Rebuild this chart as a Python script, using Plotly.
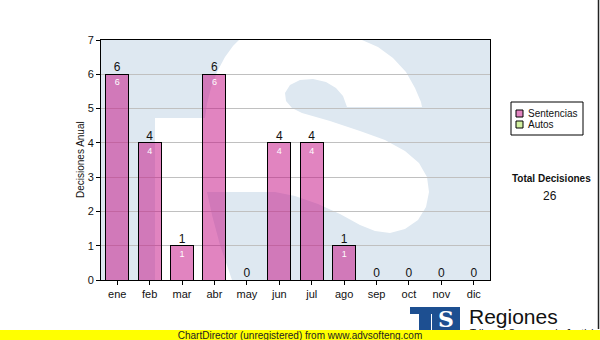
import plotly.graph_objects as go

# ---------------- data ----------------
months = ["ene", "feb", "mar", "abr", "may", "jun", "jul", "ago", "sep", "oct", "nov", "dic"]
sentencias = [6, 4, 1, 6, 0, 4, 4, 1, 0, 0, 0, 0]
autos = [0, 0, 0, 0, 0, 0, 0, 0, 0, 0, 0, 0]
series_names = ["Sentencias", "Autos"]
series_colors = ["rgba(195,10,130,0.5)", "#d2f0a0"]
y_ticks = [0, 1, 2, 3, 4, 5, 6, 7]
total = sum(sentencias) + sum(autos)

# ---------------- geometry helpers (pixel -> paper) ----------------
L, R, T, B = 101, 490, 40, 280
W, H = R - L, B - T


def px(x):
    return (x - L) / W


def py(y):
    return (B - y) / H


def poly(points):
    return "M " + " L ".join(f"{px(x):.5f},{py(y):.5f}" for x, y in points) + " Z"


fig = go.Figure()

fig.add_trace(go.Bar(
    x=months, y=sentencias, name=series_names[0],
    marker=dict(color=series_colors[0], line=dict(color="black", width=1)),
    width=0.71,
    text=[str(v) if v else "" for v in sentencias],
    textposition="inside", insidetextanchor="end",
    textfont=dict(family="Liberation Sans", size=9, color="white"),
    constraintext="none",
    showlegend=False,
))
fig.add_trace(go.Bar(
    x=months, y=autos, name=series_names[1],
    marker=dict(color=series_colors[1], line=dict(color="black", width=1)),
    width=0.71, showlegend=False,
))
fig.add_trace(go.Scatter(
    x=months, y=[a + b for a, b in zip(sentencias, autos)],
    text=[str(a + b) for a, b in zip(sentencias, autos)],
    mode="text", textposition="top center",
    textfont=dict(family="Liberation Sans", size=12, color="#111111"),
    showlegend=False, hoverinfo="skip", cliponaxis=False,
))

shapes = []
# watermark background (light blue)
shapes.append(dict(type="rect", xref="paper", yref="paper", x0=0, x1=1, y0=0, y1=1,
                   fillcolor="#dee8f1", line=dict(width=0), layer="below"))
# white "S" + gap of the logo watermark
s_pts = [(155, 280), (155, 118), (205, 118),
         (207, 104), (211, 88), (217, 72), (225, 57), (233, 46), (239, 40),
         (362, 40), (378, 47), (393, 58), (406, 72), (415, 88), (421, 102), (422, 107),
         (347, 107), (343, 96), (336, 88), (326, 82), (313, 79), (300, 80), (290, 85),
         (285, 93), (286, 101), (292, 108), (302, 113),
         (330, 121), (360, 131), (385, 140), (405, 151), (419, 163), (427, 177), (429, 192),
         (426, 207), (418, 220), (405, 229), (390, 233), (375, 231), (360, 225),
         (340, 214), (318, 204), (295, 196), (275, 192), (207, 192),
         (212, 215), (220, 245), (232, 280)]
shapes.append(dict(type="path", xref="paper", yref="paper", path=poly(s_pts),
                   fillcolor="white", line=dict(width=0), layer="below"))

# legend box (manual)
shapes.append(dict(type="rect", xref="paper", yref="paper",
                   x0=px(511), x1=px(583), y0=py(135), y1=py(102),
                   fillcolor="white", line=dict(color="black", width=1)))
for i, c in enumerate(series_colors):
    yy = 110 + i * 11
    shapes.append(dict(type="rect", xref="paper", yref="paper",
                       x0=px(516), x1=px(523), y0=py(yy + 7), y1=py(yy),
                       fillcolor=c, line=dict(color="black", width=1)))

# logo icon
logo_blue = "#1d4f91"
shapes.append(dict(type="path", xref="paper", yref="paper",
                   path=poly([(410, 307), (460, 307), (460, 330), (432, 330), (432, 314),
                              (410, 314)]),
                   fillcolor=logo_blue, line=dict(width=0)))
shapes.append(dict(type="rect", xref="paper", yref="paper",
                   x0=px(419), x1=px(431), y0=py(330), y1=py(307),
                   fillcolor=logo_blue, line=dict(width=0)))
# right border line
shapes.append(dict(type="line", xref="paper", yref="paper",
                   x0=px(598.5), x1=px(598.5), y0=py(0), y1=py(329),
                   line=dict(color="#222222", width=1.5)))

annotations = []


def ann(text, x, y, size, xanchor="center", color="#111111", family="Liberation Sans", **kw):
    annotations.append(dict(text=text, xref="paper", yref="paper", x=px(x), y=py(y),
                            xanchor=xanchor, yanchor="middle", showarrow=False,
                            font=dict(family=family, size=size, color=color), **kw))


ann("Decisiones Anual", 80, 160, 10, textangle=-90)
for i, n in enumerate(series_names):
    ann(n, 526, 113.5 + i * 11, 10, xanchor="left")
ann("<b>Total Decisiones</b>", 551, 178, 10)
ann(str(total), 550, 196, 12)
ann("Regiones", 467, 316, 21, xanchor="left")
ann("<b>S</b>", 446, 319, 22, color="white", family="DejaVu Serif")
ann("Tribunal Supremo de Justicia", 468, 333.5, 10, xanchor="left")
# yellow unregistered band (drawn last, covers most of the subtitle like in the original)
ann("ChartDirector (unregistered) from www.advsofteng.com", 300, 335, 10, color="#222222",
    bgcolor="#ffff00", width=600, height=10, borderpad=0, borderwidth=0)

fig.update_layout(
    width=600, height=340,
    margin=dict(l=L, r=600 - R, t=T, b=340 - B, pad=0),
    paper_bgcolor="white", plot_bgcolor="rgba(0,0,0,0)",
    barmode="stack",
    shapes=shapes, annotations=annotations,
    showlegend=False,
    xaxis=dict(type="category", categoryorder="array", categoryarray=months,
               range=[-0.5, len(months) - 0.5], autorange=False,
               showline=True, linecolor="black", linewidth=1, mirror=True,
               ticks="outside", ticklen=4, tickcolor="black",
               showgrid=False,
               tickfont=dict(family="Liberation Sans", size=11, color="#111111")),
    yaxis=dict(range=[0, 7], autorange=False, tickvals=y_ticks, showline=True,
               linecolor="black", linewidth=1,
               mirror=True, ticks="outside", ticklen=4, tickcolor="black",
               showgrid=True, gridcolor="#c0c0c0", gridwidth=1, zeroline=False,
               tickfont=dict(family="Liberation Sans", size=11, color="#111111")),
)

fig.write_html("out.html")
